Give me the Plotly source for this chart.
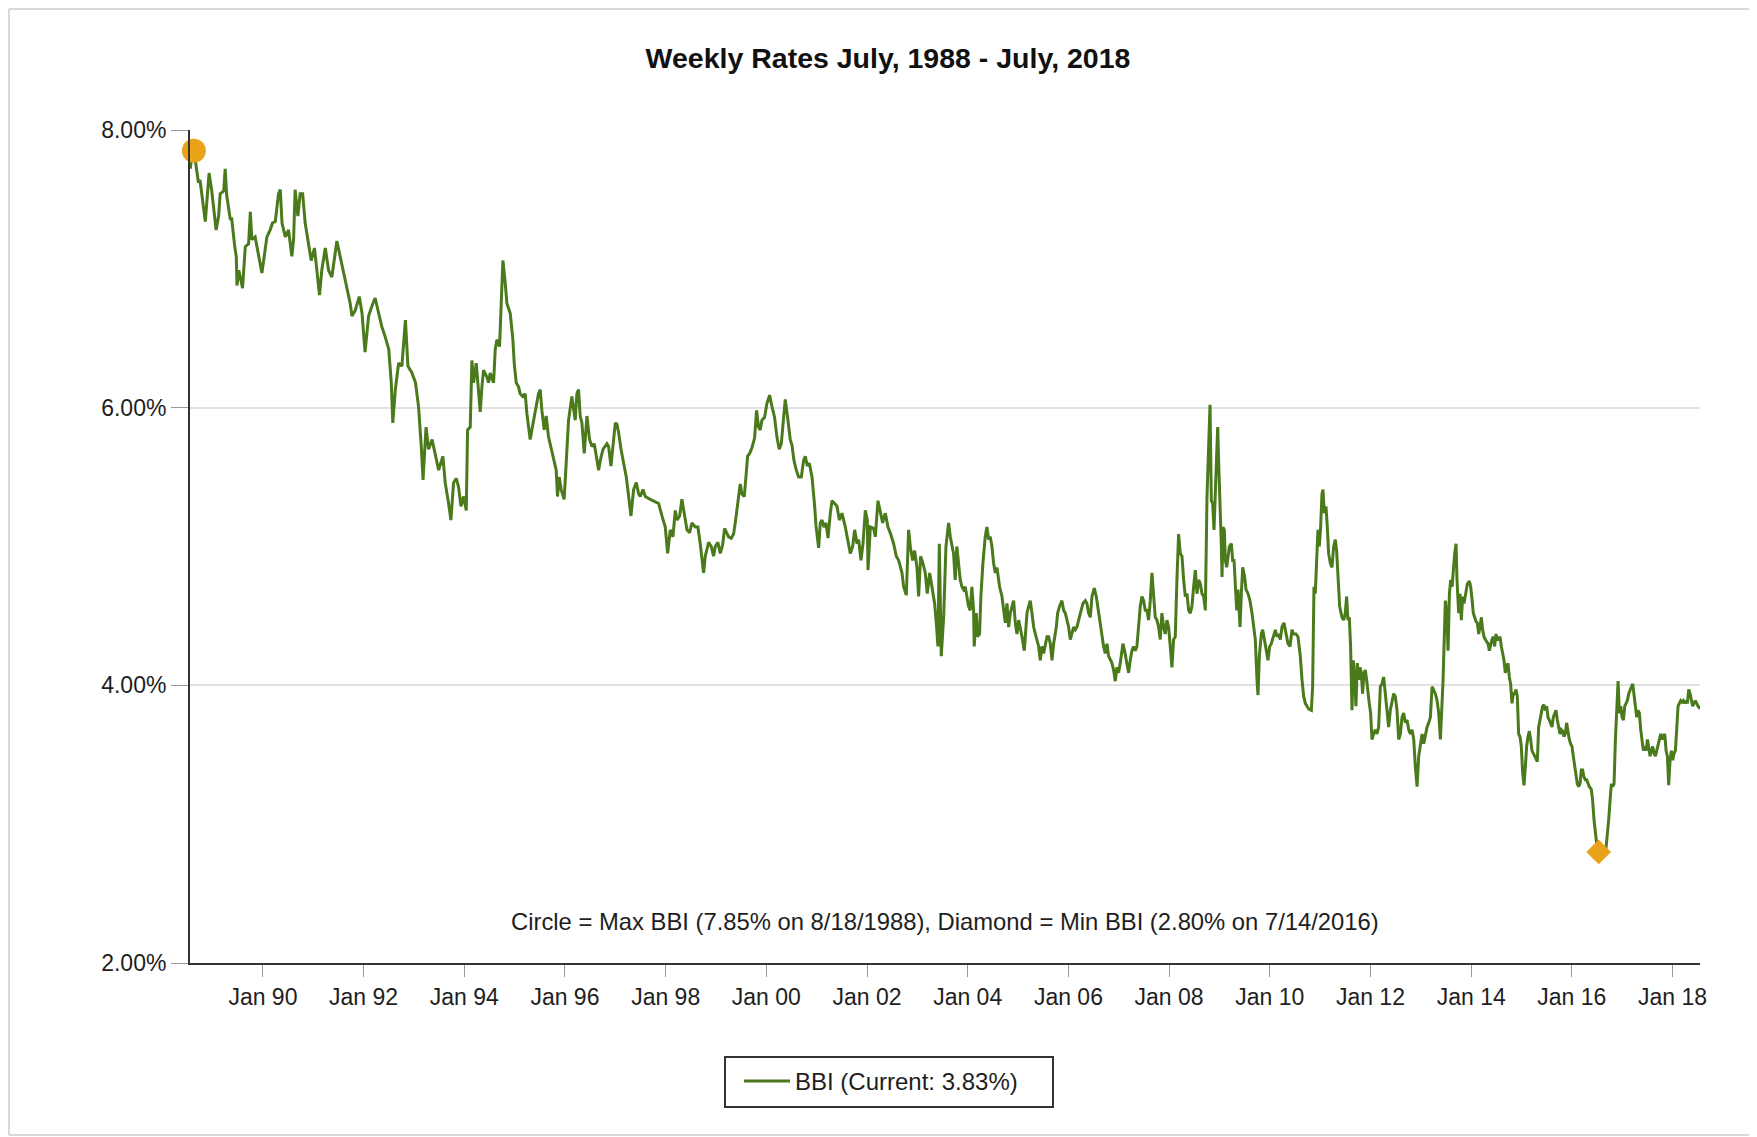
import plotly.graph_objects as go
import pandas as pd

# ---- data (decimal year, rate %) ----
dec_years = [
    1988.555, 1988.59, 1988.63, 1988.66, 1988.72, 1988.75, 1988.82, 1988.855, 1988.93, 1988.98,
    1989.07, 1989.12, 1989.15, 1989.22, 1989.25, 1989.28, 1989.35, 1989.38, 1989.44, 1989.47,
    1989.485, 1989.52, 1989.55, 1989.595, 1989.65, 1989.715, 1989.75, 1989.78, 1989.845, 1989.91,
    1989.98, 1990.045, 1990.08, 1990.145, 1990.19, 1990.245, 1990.31, 1990.345, 1990.38, 1990.445,
    1990.51, 1990.575, 1990.61, 1990.64, 1990.695, 1990.74, 1990.79, 1990.84, 1990.91, 1990.96,
    1991.025, 1991.07, 1991.125, 1991.17, 1991.24, 1991.305, 1991.37, 1991.47, 1991.535, 1991.6,
    1991.67, 1991.735, 1991.77, 1991.835, 1991.915, 1991.97, 1992.03, 1992.1, 1992.165, 1992.23,
    1992.3, 1992.365, 1992.43, 1992.5, 1992.55, 1992.58, 1992.63, 1992.695, 1992.76, 1992.83,
    1992.88, 1992.96, 1993.03, 1993.09, 1993.145, 1993.18, 1993.24, 1993.29, 1993.36, 1993.425,
    1993.49,
    1993.575, 1993.62, 1993.688, 1993.734, 1993.787, 1993.84, 1993.886, 1993.933, 1993.986, 1994.039,
    1994.065, 1994.118, 1994.151, 1994.184, 1994.237, 1994.284, 1994.317, 1994.35, 1994.383, 1994.449,
    1994.482, 1994.515, 1994.582, 1994.615, 1994.648, 1994.701, 1994.734, 1994.767, 1994.813, 1994.847,
    1994.913, 1994.966, 1994.992, 1995.032, 1995.078, 1995.111, 1995.164, 1995.211, 1995.244, 1995.277,
    1995.31, 1995.343, 1995.409, 1995.475, 1995.509, 1995.542, 1995.588, 1995.628, 1995.674, 1995.72,
    1995.774, 1995.827, 1995.853, 1995.886, 1995.926, 1995.985, 1996.025, 1996.072, 1996.138, 1996.204,
    1996.237, 1996.27, 1996.303, 1996.337, 1996.383, 1996.436, 1996.489, 1996.535, 1996.582, 1996.635,
    1996.668, 1996.701, 1996.754, 1996.833, 1996.866, 1996.913, 1996.953, 1996.999, 1997.032, 1997.065,
    1997.112, 1997.164, 1997.217, 1997.264, 1997.31, 1997.363, 1997.416, 1997.462, 1997.496, 1997.549,
    1997.595, 1997.694, 1997.86, 1997.926, 1997.992, 1998.039, 1998.092, 1998.144, 1998.191, 1998.224,
    1998.277, 1998.323, 1998.37, 1998.423, 1998.476, 1998.522, 1998.588,
    1998.641, 1998.687, 1998.754, 1998.787, 1998.853, 1998.906, 1998.952, 1998.985, 1999.038, 1999.085,
    1999.131, 1999.171, 1999.217, 1999.25, 1999.303, 1999.35, 1999.383, 1999.436, 1999.482, 1999.515,
    1999.562, 1999.595, 1999.628, 1999.668, 1999.714, 1999.767, 1999.807, 1999.846, 1999.879, 1999.913,
    1999.965, 2000.012, 2000.065, 2000.111, 2000.164, 2000.21, 2000.257, 2000.297, 2000.33, 2000.376,
    2000.429, 2000.475, 2000.509, 2000.548, 2000.595, 2000.641, 2000.694, 2000.74, 2000.773, 2000.813,
    2000.853, 2000.906, 2000.959, 2000.985, 2001.038, 2001.071, 2001.105, 2001.144, 2001.184, 2001.224,
    2001.27, 2001.303, 2001.356, 2001.403, 2001.449, 2001.502, 2001.568, 2001.621, 2001.667, 2001.714,
    2001.754, 2001.8, 2001.833, 2001.879, 2001.919, 2001.966, 2002.005, 2002.019, 2002.065, 2002.131,
    2002.164, 2002.217, 2002.264, 2002.31, 2002.363, 2002.416, 2002.469, 2002.528, 2002.581, 2002.628,
    2002.694, 2002.727, 2002.78, 2002.826, 2002.86, 2002.906, 2002.946, 2002.992, 2003.025, 2003.065,
    2003.111, 2003.157, 2003.197, 2003.244, 2003.29, 2003.343, 2003.383, 2003.409, 2003.436, 2003.475,
    2003.522, 2003.568, 2003.621, 2003.654,
    2003.719, 2003.752, 2003.785, 2003.819, 2003.852, 2003.885, 2003.918, 2003.951, 2003.984, 2004.017,
    2004.05, 2004.083, 2004.117, 2004.13, 2004.17, 2004.196, 2004.236, 2004.262, 2004.302, 2004.348,
    2004.381, 2004.415, 2004.448, 2004.481, 2004.514, 2004.547, 2004.58, 2004.633, 2004.68, 2004.713,
    2004.746, 2004.779, 2004.812, 2004.845, 2004.878, 2004.911, 2004.944, 2004.977, 2005.011, 2005.044,
    2005.077, 2005.123, 2005.176, 2005.209, 2005.242, 2005.275, 2005.309, 2005.342, 2005.375, 2005.408,
    2005.441, 2005.474, 2005.507, 2005.54, 2005.574, 2005.607, 2005.64, 2005.673, 2005.706, 2005.759,
    2005.785, 2005.825, 2005.871, 2005.905, 2005.938, 2005.971, 2006.004, 2006.037, 2006.07, 2006.103,
    2006.136, 2006.169, 2006.203, 2006.249, 2006.289, 2006.335, 2006.368, 2006.401, 2006.435, 2006.468,
    2006.514, 2006.554, 2006.6, 2006.633, 2006.666, 2006.699, 2006.732, 2006.766, 2006.799, 2006.832,
    2006.865, 2006.898, 2006.931, 2006.964, 2006.997, 2007.03, 2007.083, 2007.116, 2007.163, 2007.196,
    2007.229, 2007.262, 2007.295, 2007.328, 2007.361, 2007.395, 2007.428, 2007.461, 2007.494, 2007.527,
    2007.56, 2007.593, 2007.627, 2007.66, 2007.693, 2007.726, 2007.759, 2007.792, 2007.825, 2007.858,
    2007.891, 2007.924, 2007.958, 2007.991, 2008.024, 2008.057, 2008.09, 2008.123, 2008.156, 2008.189,
    2008.223, 2008.256, 2008.289, 2008.322, 2008.355, 2008.388, 2008.421, 2008.454, 2008.487, 2008.521,
    2008.554, 2008.587, 2008.62, 2008.653, 2008.686, 2008.719,
    2008.752, 2008.785, 2008.812, 2008.838, 2008.865, 2008.891, 2008.918, 2008.944, 2008.964, 2008.984,
    2009.01, 2009.037, 2009.05, 2009.07, 2009.096, 2009.116, 2009.143, 2009.169, 2009.196, 2009.236,
    2009.262, 2009.289, 2009.315, 2009.342, 2009.368, 2009.408, 2009.434, 2009.461, 2009.5, 2009.527,
    2009.567, 2009.606, 2009.646, 2009.679, 2009.712, 2009.745, 2009.765, 2009.792, 2009.832, 2009.858,
    2009.898, 2009.931, 2009.964, 2009.997, 2010.03, 2010.077, 2010.11, 2010.143, 2010.176, 2010.209,
    2010.242, 2010.282, 2010.322, 2010.361, 2010.401, 2010.441, 2010.474, 2010.52, 2010.56, 2010.606,
    2010.64, 2010.673, 2010.706, 2010.772, 2010.825, 2010.851, 2010.878, 2010.904, 2010.937, 2010.957,
    2010.984, 2011.01, 2011.037, 2011.057, 2011.083, 2011.116, 2011.143, 2011.169, 2011.202, 2011.236,
    2011.269, 2011.302, 2011.328, 2011.355, 2011.388, 2011.434, 2011.467, 2011.5, 2011.527, 2011.553,
    2011.58, 2011.606, 2011.633, 2011.659, 2011.686, 2011.712, 2011.739, 2011.765, 2011.792, 2011.818,
    2011.845, 2011.871, 2011.898, 2011.924, 2011.951, 2011.977, 2012.004, 2012.03, 2012.063, 2012.096,
    2012.13, 2012.163, 2012.196, 2012.229, 2012.262, 2012.295, 2012.328, 2012.361, 2012.394, 2012.428,
    2012.461, 2012.494, 2012.527, 2012.56, 2012.593, 2012.626, 2012.659, 2012.693, 2012.726, 2012.759,
    2012.792, 2012.825, 2012.858, 2012.891, 2012.924, 2012.957, 2012.99, 2013.024, 2013.057, 2013.09,
    2013.123, 2013.156, 2013.189, 2013.222, 2013.255, 2013.288, 2013.322, 2013.355, 2013.388, 2013.421,
    2013.441, 2013.467, 2013.487, 2013.514, 2013.54, 2013.567, 2013.593, 2013.62, 2013.646, 2013.672,
    2013.699,
    2013.718, 2013.751, 2013.778, 2013.804, 2013.831, 2013.857, 2013.884, 2013.923, 2013.963, 2013.99,
    2014.016, 2014.043, 2014.069, 2014.096, 2014.122, 2014.149, 2014.175, 2014.202, 2014.228, 2014.255,
    2014.281, 2014.308, 2014.334, 2014.361, 2014.387, 2014.413, 2014.44, 2014.466, 2014.493, 2014.519,
    2014.546, 2014.572, 2014.599, 2014.625, 2014.652, 2014.678, 2014.705, 2014.731, 2014.758, 2014.784,
    2014.811, 2014.837, 2014.864, 2014.89, 2014.917, 2014.943, 2014.97, 2014.996, 2015.023, 2015.049,
    2015.076, 2015.102, 2015.129, 2015.155, 2015.182, 2015.208, 2015.235, 2015.261, 2015.288, 2015.314,
    2015.341, 2015.367, 2015.394, 2015.42, 2015.447, 2015.473, 2015.5, 2015.526, 2015.553, 2015.579,
    2015.606, 2015.632, 2015.659, 2015.685, 2015.712, 2015.738, 2015.765, 2015.791, 2015.817, 2015.844,
    2015.87, 2015.897, 2015.923, 2015.95, 2015.976, 2016.003, 2016.029, 2016.056, 2016.082, 2016.109,
    2016.135, 2016.162, 2016.188, 2016.215, 2016.241, 2016.268, 2016.294, 2016.321, 2016.347, 2016.387,
    2016.413, 2016.44, 2016.466, 2016.493, 2016.532, 2016.572, 2016.612, 2016.652, 2016.678, 2016.705,
    2016.731, 2016.758, 2016.784, 2016.811, 2016.837, 2016.864, 2016.891, 2016.917, 2016.943, 2016.97,
    2016.996, 2017.023, 2017.049, 2017.076, 2017.102, 2017.129, 2017.155, 2017.182, 2017.208, 2017.235,
    2017.261, 2017.288, 2017.314, 2017.341, 2017.367, 2017.394, 2017.42, 2017.447, 2017.473, 2017.5,
    2017.526, 2017.553, 2017.579, 2017.606, 2017.632, 2017.659, 2017.685, 2017.712, 2017.738, 2017.765,
    2017.791, 2017.817, 2017.844, 2017.871, 2017.897, 2017.923, 2017.95, 2017.976, 2018.003, 2018.029,
    2018.056, 2018.082, 2018.109, 2018.135, 2018.162, 2018.188, 2018.215, 2018.241, 2018.268, 2018.294,
    2018.321, 2018.347, 2018.374, 2018.4, 2018.427, 2018.453, 2018.48, 2018.506, 2018.549,
]

bbi_rates = [
    7.72, 7.80, 7.85, 7.76, 7.62, 7.64, 7.45, 7.34, 7.69, 7.57,
    7.28, 7.38, 7.54, 7.56, 7.72, 7.53, 7.36, 7.36, 7.16, 7.09,
    6.88, 6.99, 6.94, 6.86, 7.16, 7.18, 7.41, 7.21, 7.23, 7.09,
    6.97, 7.14, 7.23, 7.28, 7.33, 7.34, 7.54, 7.57, 7.33, 7.23,
    7.28, 7.09, 7.21, 7.57, 7.38, 7.54, 7.54, 7.33, 7.16, 7.06,
    7.15, 6.99, 6.81, 6.99, 7.15, 6.99, 6.94, 7.20, 7.09, 6.97,
    6.87, 6.75, 6.66, 6.70, 6.80, 6.68, 6.40, 6.66, 6.73, 6.79,
    6.68, 6.58, 6.51, 6.42, 6.18, 5.89, 6.13, 6.32, 6.30, 6.63,
    6.30, 6.25, 6.18, 6.01, 5.72, 5.48, 5.86, 5.70, 5.77, 5.67,
    5.55,
    5.65, 5.46, 5.31, 5.19, 5.46, 5.49, 5.43, 5.29, 5.36, 5.26,
    5.84, 5.86, 6.34, 6.18, 6.32, 6.13, 5.97, 6.15, 6.27, 6.22,
    6.18, 6.25, 6.18, 6.42, 6.49, 6.44, 6.80, 7.06, 6.90, 6.75,
    6.68, 6.49, 6.32, 6.18, 6.15, 6.10, 6.08, 6.10, 5.96, 5.84,
    5.77, 5.84, 5.97, 6.10, 6.13, 5.98, 5.84, 5.94, 5.79, 5.72,
    5.65, 5.55, 5.36, 5.50, 5.41, 5.34, 5.60, 5.91, 6.08, 5.91,
    6.10, 6.13, 5.94, 5.89, 5.67, 5.94, 5.77, 5.72, 5.74, 5.60,
    5.55, 5.62, 5.70, 5.74, 5.72, 5.58, 5.74, 5.89, 5.88, 5.82,
    5.70, 5.60, 5.50, 5.36, 5.22, 5.41, 5.46, 5.38, 5.36, 5.41,
    5.36, 5.34, 5.31, 5.22, 5.14, 4.95, 5.12, 5.07, 5.26, 5.19,
    5.22, 5.34, 5.22, 5.12, 5.10, 5.17, 5.14,
    5.14, 5.02, 4.81, 4.93, 5.03, 5.00, 4.93, 5.00, 5.03, 4.95,
    5.01, 5.13, 5.09, 5.07, 5.06, 5.09, 5.17, 5.33, 5.45, 5.38,
    5.36, 5.50, 5.65, 5.67, 5.71, 5.78, 5.98, 5.86, 5.84, 5.91,
    5.93, 6.03, 6.09, 6.01, 5.93, 5.79, 5.70, 5.74, 5.89, 6.06,
    5.91, 5.77, 5.73, 5.62, 5.55, 5.50, 5.50, 5.62, 5.65, 5.58,
    5.60, 5.50, 5.29, 5.15, 4.99, 5.17, 5.19, 5.14, 5.17, 5.06,
    5.24, 5.33, 5.31, 5.29, 5.19, 5.24, 5.14, 5.02, 4.95, 5.00,
    5.12, 5.02, 5.05, 4.90, 5.02, 5.26, 5.19, 4.83, 5.14, 5.13,
    5.07, 5.33, 5.26, 5.17, 5.24, 5.14, 5.09, 5.02, 4.93, 4.90,
    4.81, 4.71, 4.65, 5.12, 5.00, 4.90, 4.97, 4.85, 4.64, 4.93,
    4.88, 4.81, 4.66, 4.81, 4.71, 4.59, 4.42, 4.28, 5.02, 4.21,
    4.49, 5.00, 5.17, 5.07,
    4.95, 4.76, 5.00, 4.88, 4.76, 4.71, 4.69, 4.71, 4.64, 4.57,
    4.54, 4.71, 4.54, 4.28, 4.52, 4.35, 4.37, 4.64, 4.88, 5.07,
    5.14, 5.05, 5.07, 5.00, 4.88, 4.81, 4.85, 4.71, 4.64, 4.52,
    4.45, 4.59, 4.42, 4.52, 4.57, 4.61, 4.45, 4.37, 4.47, 4.42,
    4.35, 4.25, 4.52, 4.57, 4.61, 4.52, 4.42, 4.37, 4.33, 4.28,
    4.18, 4.28, 4.23, 4.30, 4.35, 4.35, 4.30, 4.18, 4.30, 4.42,
    4.52, 4.57, 4.61, 4.54, 4.52, 4.47, 4.42, 4.33, 4.37, 4.42,
    4.40, 4.42, 4.47, 4.54, 4.59, 4.61, 4.59, 4.52, 4.49, 4.64,
    4.70, 4.64, 4.52, 4.42, 4.33, 4.28, 4.23, 4.30, 4.21, 4.18,
    4.16, 4.11, 4.03, 4.13, 4.09, 4.16, 4.30, 4.25, 4.16, 4.09,
    4.18, 4.25, 4.28, 4.25, 4.28, 4.42, 4.57, 4.64, 4.61, 4.54,
    4.54, 4.47, 4.61, 4.81, 4.64, 4.49, 4.47, 4.42, 4.33, 4.52,
    4.42, 4.37, 4.47, 4.42, 4.28, 4.13, 4.33, 4.35, 4.76, 5.09,
    4.95, 4.93, 4.76, 4.64, 4.66, 4.54, 4.52, 4.57, 4.71, 4.83,
    4.66, 4.76, 4.73, 4.66, 4.64, 4.54,
    5.36, 5.72, 6.02, 5.33, 5.31, 5.12, 5.38, 5.67, 5.86, 5.60,
    5.36, 5.00, 4.78, 5.14, 5.12, 4.90, 4.85, 4.95, 5.00, 5.02,
    4.90, 4.90, 4.66, 4.54, 4.69, 4.42, 4.66, 4.85, 4.78, 4.69,
    4.66, 4.61, 4.52, 4.42, 4.33, 4.04, 3.93, 4.21, 4.37, 4.40,
    4.33, 4.25, 4.18, 4.28, 4.30, 4.37, 4.40, 4.35, 4.37, 4.33,
    4.42, 4.45, 4.37, 4.30, 4.28, 4.40, 4.37, 4.37, 4.35, 4.21,
    4.04, 3.92, 3.87, 3.83, 3.82, 3.99, 4.71, 4.66, 4.95, 5.12,
    5.00, 5.14, 5.38, 5.41, 5.24, 5.29, 5.14, 4.95, 4.88, 4.85,
    5.00, 5.05, 4.97, 4.76, 4.57, 4.49, 4.47, 4.52, 4.64, 4.47,
    4.49, 4.28, 3.82, 4.18, 4.06, 3.85, 4.16, 4.04, 4.13, 4.09,
    3.94, 4.09, 4.11, 4.04, 3.92, 3.87, 3.80, 3.61, 3.65, 3.68,
    3.65, 3.70, 3.99, 4.01, 4.06, 3.94, 3.85, 3.70, 3.82, 3.89,
    3.94, 3.92, 3.82, 3.61, 3.65, 3.77, 3.80, 3.73, 3.75, 3.68,
    3.65, 3.68, 3.61, 3.41, 3.27, 3.49, 3.56, 3.65, 3.58, 3.65,
    3.70, 3.73, 3.77, 3.99, 3.97, 3.94, 3.89, 3.80, 3.61, 3.82,
    4.04, 4.37, 4.61, 4.52, 4.25, 4.66, 4.76, 4.71, 4.85, 4.95,
    5.02,
    4.76, 4.52, 4.66, 4.47, 4.64, 4.59, 4.66, 4.73, 4.75, 4.71,
    4.62, 4.52, 4.49, 4.46, 4.45, 4.37, 4.42, 4.49, 4.40, 4.35,
    4.33, 4.31, 4.30, 4.25, 4.30, 4.33, 4.35, 4.28, 4.37, 4.33,
    4.33, 4.35, 4.28, 4.23, 4.18, 4.09, 4.13, 4.16, 4.06, 4.01,
    3.87, 3.94, 3.94, 3.97, 3.92, 3.65, 3.63, 3.56, 3.37, 3.28,
    3.41, 3.56, 3.63, 3.67, 3.61, 3.53, 3.51, 3.49, 3.46, 3.45,
    3.70, 3.75, 3.80, 3.85, 3.86, 3.82, 3.85, 3.77, 3.75, 3.73,
    3.70, 3.77, 3.80, 3.82, 3.75, 3.70, 3.65, 3.68, 3.67, 3.63,
    3.65, 3.73, 3.65, 3.61, 3.58, 3.56, 3.49, 3.41, 3.37, 3.29,
    3.27, 3.29, 3.39, 3.39, 3.34, 3.32, 3.32, 3.29, 3.27, 3.25,
    3.17, 3.03, 2.93, 2.86, 2.80, 2.84, 2.82, 2.82, 2.83, 2.91,
    3.03, 3.17, 3.29, 3.27, 3.29, 3.61, 3.80, 4.03, 3.80, 3.85,
    3.77, 3.75, 3.85, 3.87, 3.89, 3.94, 3.97, 3.99, 4.01, 3.94,
    3.85, 3.77, 3.82, 3.80, 3.68, 3.61, 3.53, 3.56, 3.53, 3.61,
    3.56, 3.49, 3.53, 3.56, 3.51, 3.49, 3.53, 3.58, 3.61, 3.65,
    3.61, 3.63, 3.65, 3.53, 3.49, 3.28, 3.46, 3.53, 3.46, 3.51,
    3.53, 3.68, 3.85, 3.87, 3.89, 3.88, 3.89, 3.87, 3.89, 3.87,
    3.97, 3.94, 3.89, 3.85, 3.87, 3.89, 3.87, 3.85, 3.83,
]

max_date = ["1988-08-18"]
max_rate = [7.85]
min_date = ["2016-07-14"]
min_rate = [2.80]

y_tick_vals = [2, 4, 6, 8]
y_tick_text = ["2.00%", "4.00%", "6.00%", "8.00%"]
x_range = ["1988-07-21", "2018-07-19"]
series_name = "BBI (Current: 3.83%)"
title_text = "Weekly Rates July, 1988 - July, 2018"
note_text = "Circle = Max BBI (7.85% on 8/18/1988), Diamond = Min BBI (2.80% on 7/14/2016)"


def dec_to_date(y):
    yr = int(y)
    start = pd.Timestamp(year=yr, month=1, day=1)
    end = pd.Timestamp(year=yr + 1, month=1, day=1)
    return start + (end - start) * (y - yr)


dates = [dec_to_date(v) for v in dec_years]

LINE = "#4a7a1c"
ORANGE = "#e8a31a"
FONT = "Liberation Sans, Arial, sans-serif"
TXT = "#1e1e1e"

# figure is placed 8px inside the page (default body margin)
W, H = 1749, 1129
L, R, T, B = 182, 57, 122, 174
pw, ph = W - L - R, H - T - B


def px_x(x):
    return (x - L) / pw


def px_y(y):
    return (H - B - y) / ph


fig = go.Figure()
fig.add_trace(go.Scatter(
    x=dates, y=bbi_rates, mode="lines", name=series_name,
    line=dict(color=LINE, width=3), hoverinfo="x+y",
))
fig.add_trace(go.Scatter(
    x=max_date, y=max_rate, mode="markers", showlegend=False,
    marker=dict(symbol="circle", size=24, color=ORANGE), cliponaxis=False,
))
fig.add_trace(go.Scatter(
    x=min_date, y=min_rate, mode="markers", showlegend=False,
    marker=dict(symbol="diamond", size=19, color=ORANGE), cliponaxis=False,
))

border = dict(color="#d9d9d9", width=2)
fig.update_layout(
    width=W, height=H,
    margin=dict(l=L, r=R, t=T, b=B, autoexpand=False),
    paper_bgcolor="white", plot_bgcolor="white",
    font=dict(family=FONT, size=23, color=TXT),
    title=dict(
        text="<b>" + title_text + "</b>",
        x=880 / W, xref="container", xanchor="center",
        y=1 - 50 / H, yref="container", yanchor="middle",
        font=dict(size=28.5, color="#111111", family=FONT),
    ),
    showlegend=True,
    legend=dict(
        orientation="h", x=px_x(731), xanchor="left",
        y=px_y(1051), yanchor="top",
        borderwidth=0, bgcolor="rgba(0,0,0,0)",
        font=dict(size=24, color=TXT, family=FONT), itemwidth=46,
    ),
    xaxis=dict(
        type="date", range=x_range,
        tickmode="linear", tick0="1990-01-01", dtick="M24",
        tickformat="%b %y",
        showgrid=False, zeroline=False,
        showline=True, linecolor="#333333", linewidth=2,
        ticks="outside", ticklen=12, tickwidth=1, tickcolor="#999999",
        tickfont=dict(size=23, color=TXT),
    ),
    yaxis=dict(
        range=[2, 8], tickmode="array", tickvals=y_tick_vals, ticktext=y_tick_text,
        showgrid=True, gridcolor="#e2e2e2", gridwidth=2, zeroline=False,
        showline=True, linecolor="#333333", linewidth=2,
        ticks="outside", ticklen=17, tickwidth=1, tickcolor="#999999",
        tickfont=dict(size=23, color=TXT),
    ),
    annotations=[dict(
        text=note_text, xref="paper", yref="paper",
        x=0.5, y=px_y(913), xanchor="center", yanchor="middle",
        showarrow=False, font=dict(size=23.8, color=TXT, family=FONT),
    )],
    shapes=[
        dict(type="line", xref="paper", yref="paper",
             x0=px_x(1), x1=px_x(1800), y0=px_y(1), y1=px_y(1),
             line=border, layer="below"),
        dict(type="line", xref="paper", yref="paper",
             x0=px_x(1), x1=px_x(1), y0=px_y(1), y1=px_y(1127),
             line=border, layer="below"),
        dict(type="line", xref="paper", yref="paper",
             x0=px_x(1), x1=px_x(1800), y0=px_y(1127), y1=px_y(1127),
             line=border, layer="below"),
        dict(
            type="rect", xref="paper", yref="paper",
            x0=px_x(717), x1=px_x(1045), y0=px_y(1099), y1=px_y(1049),
            line=dict(color="#333333", width=2), fillcolor="rgba(0,0,0,0)",
            layer="below",
        ),
    ],
)

fig.write_html("out.html")
